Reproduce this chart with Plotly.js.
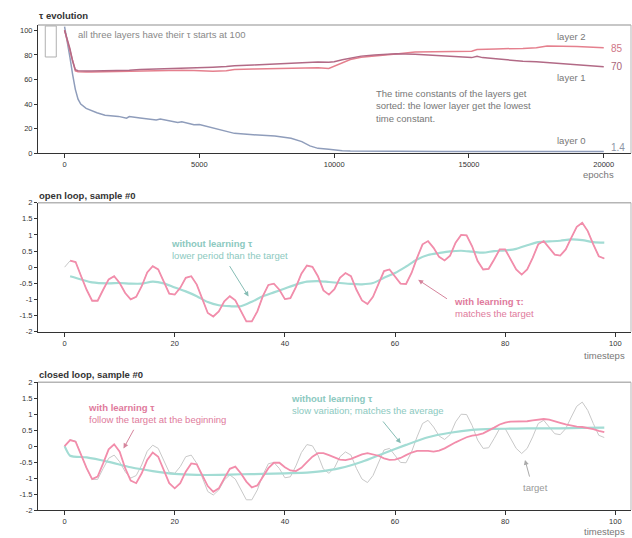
<!DOCTYPE html>
<html>
<head>
<meta charset="utf-8">
<script src="https://cdn.plot.ly/plotly-3.0.1.min.js"></script>
<style>html,body{margin:0;padding:0;background:#fff;}#chart{width:632px;height:538px;}</style>
</head>
<body>
<div id="chart"></div>
<script>
// ---------- DATA ----------
const epochs = [0, 100, 200, 300, 400, 500, 600, 800, 1000, 1200, 1500, 2000, 2300, 2400, 2800, 3400, 3550, 4200, 4350, 4800, 5000, 5500, 6000, 6300, 7000, 7800, 8400, 8800, 9100, 9400, 9800, 10000, 10300, 10600, 11000, 11500, 12300, 13000, 14000, 15100, 15300, 15500, 16000, 17000, 17500, 17900, 18500, 19000, 20000];
const tauLayer0 = [103, 92, 78, 64, 52, 44, 40, 36.5, 34.5, 33, 31, 30, 28.5, 29.8, 28.6, 27, 27.8, 25, 25.7, 23.2, 23.3, 20.5, 17.8, 16.2, 15, 14, 12.2, 9.5, 6, 4, 3.2, 2.5, 2, 1.8, 1.7, 1.6, 1.6, 1.5, 1.5, 1.5, 1.5, 1.5, 1.5, 1.4, 1.4, 1.4, 1.4, 1.4, 1.4];
const tauLayer1 = [100, 93, 85, 75, 68, 67.2, 67, 67, 67, 67, 67, 67.5, 67.5, 67.6, 68.2, 68.5, 68.6, 69, 69.2, 69.6, 69.8, 70, 70.5, 71.1, 71.8, 72.7, 73.2, 73.6, 74, 74.2, 74, 74.5, 76, 77.5, 79, 80, 81, 80.5, 79.2, 77.8, 78.8, 77.8, 76.8, 74.8, 74.5, 74, 72.8, 72, 70.3];
const tauLayer2 = [100, 92, 84, 74, 67, 66.3, 66, 66, 66, 66.1, 66.3, 66.8, 67, 67, 67.2, 67.5, 67.5, 67.5, 67.5, 67.4, 67.3, 66.8, 67.2, 68.2, 68.5, 68.8, 69, 69.3, 69.5, 69.5, 69, 70.8, 74, 76.2, 78, 79.3, 80.8, 82.3, 82.6, 83, 84.4, 84.6, 84.9, 85.3, 85.8, 87.2, 87.2, 86.8, 85.9];

// target sequence, timesteps 0..98
const target = [0, 0.2, 0.16, -0.28, -0.7, -1.04, -1.04, -0.7, -0.38, -0.28, -0.49, -0.8, -1.0, -0.92, -0.59, -0.16, 0.03, -0.07, -0.44, -0.82, -0.85, -0.64, -0.33, -0.28, -0.54, -1.0, -1.42, -1.53, -1.37, -1.06, -0.9, -1.03, -1.37, -1.68, -1.68, -1.37, -0.9, -0.55, -0.51, -0.7, -0.99, -0.96, -0.62, -0.2, 0.05, 0.01, -0.28, -0.72, -0.85, -0.68, -0.33, -0.18, -0.28, -0.7, -1.03, -1.14, -0.92, -0.49, -0.12, -0.07, -0.28, -0.51, -0.52, -0.18, 0.29, 0.71, 0.81, 0.6, 0.32, 0.21, 0.36, 0.76, 1.0, 0.99, 0.65, 0.19, -0.07, -0.05, 0.24, 0.55, 0.55, 0.24, -0.07, -0.23, -0.07, 0.29, 0.71, 0.81, 0.6, 0.39, 0.36, 0.55, 0.91, 1.25, 1.38, 1.12, 0.71, 0.34, 0.27];

// open loop with learning tau, timesteps 1..98
const openWithTau = [0.2, 0.16, -0.28, -0.7, -1.04, -1.04, -0.7, -0.38, -0.28, -0.49, -0.8, -1.0, -0.92, -0.59, -0.16, 0.03, -0.07, -0.44, -0.82, -0.85, -0.64, -0.33, -0.28, -0.54, -1.0, -1.42, -1.53, -1.37, -1.06, -0.9, -1.03, -1.37, -1.68, -1.68, -1.37, -0.9, -0.55, -0.51, -0.7, -0.99, -0.96, -0.62, -0.2, 0.05, 0.01, -0.28, -0.72, -0.85, -0.68, -0.33, -0.18, -0.28, -0.7, -1.03, -1.14, -0.92, -0.49, -0.12, -0.07, -0.28, -0.51, -0.52, -0.18, 0.29, 0.71, 0.81, 0.6, 0.32, 0.21, 0.36, 0.76, 1.0, 0.99, 0.65, 0.19, -0.07, -0.05, 0.24, 0.55, 0.55, 0.24, -0.07, -0.23, -0.07, 0.29, 0.71, 0.81, 0.6, 0.39, 0.36, 0.55, 0.91, 1.25, 1.38, 1.12, 0.71, 0.34, 0.27];

// open loop without learning tau
const openNoTauT = [1, 3, 5, 8, 10, 12, 14, 16, 18, 20, 22, 24, 26, 28, 30, 32, 34, 36, 38, 40, 42, 44, 46, 48, 50, 52, 54, 56, 58, 60, 62, 64, 66, 68, 70, 72, 74, 76, 78, 80, 82, 84, 86, 88, 90, 92, 94, 96, 98];
const openNoTau = [-0.28, -0.38, -0.47, -0.5, -0.49, -0.51, -0.51, -0.45, -0.5, -0.63, -0.75, -0.9, -1.08, -1.18, -1.21, -1.21, -1.07, -0.9, -0.78, -0.66, -0.54, -0.45, -0.43, -0.46, -0.49, -0.52, -0.53, -0.49, -0.33, -0.18, 0.02, 0.24, 0.38, 0.44, 0.49, 0.51, 0.48, 0.45, 0.5, 0.52, 0.57, 0.68, 0.78, 0.8, 0.82, 0.86, 0.84, 0.78, 0.76];

// closed loop with learning tau, timesteps 0..98
const closedWithTau = [0, 0.19, 0.14, -0.28, -0.69, -1.03, -0.95, -0.54, -0.1, 0.06, -0.17, -0.69, -1.08, -1.16, -0.85, -0.43, -0.2, -0.33, -0.75, -1.16, -1.32, -1.16, -0.8, -0.54, -0.57, -0.9, -1.25, -1.43, -1.32, -1.01, -0.71, -0.64, -0.85, -1.11, -1.29, -1.23, -0.98, -0.69, -0.52, -0.52, -0.66, -0.76, -0.78, -0.68, -0.5, -0.33, -0.22, -0.22, -0.28, -0.36, -0.42, -0.44, -0.4, -0.33, -0.26, -0.22, -0.25, -0.3, -0.38, -0.43, -0.42, -0.37, -0.28, -0.2, -0.15, -0.14, -0.15, -0.17, -0.14, -0.07, 0.03, 0.12, 0.2, 0.28, 0.33, 0.35, 0.4, 0.48, 0.58, 0.68, 0.74, 0.77, 0.77, 0.76, 0.78, 0.81, 0.84, 0.85, 0.83, 0.79, 0.73, 0.68, 0.64, 0.61, 0.6, 0.57, 0.53, 0.48, 0.44];

// closed loop without learning tau
const closedNoTauT = [0, 1, 4, 8, 12, 16, 20, 24, 28, 32, 36, 40, 44, 46, 50, 54, 58, 62, 66, 70, 74, 78, 82, 86, 90, 94, 98];
const closedNoTau = [0, -0.3, -0.35, -0.49, -0.66, -0.78, -0.87, -0.9, -0.9, -0.88, -0.87, -0.85, -0.83, -0.8, -0.69, -0.49, -0.22, 0.04, 0.28, 0.42, 0.51, 0.54, 0.55, 0.56, 0.56, 0.57, 0.58];

const tauTicks = [0, 20, 40, 60, 80, 100];
const epochTicks = [0, 5000, 10000, 15000, 20000];
const signalTicks = [-2, -1.5, -1, -0.5, 0, 0.5, 1, 1.5, 2];
const signalTickText = ['-2', '-1.5', '-1', '-0.5', '0', '0.5', '1', '1.5', '2'];
const stepTicks = [0, 20, 40, 60, 80, 100];

// ---------- STYLE ----------
const PINK = '#f28dab', TEAL = '#a3dcd4', GRAY = '#c8c8c8';
const PINK_TXT = '#e07a9c', TEAL_TXT = '#8cc9c0';
const FONT = 'Liberation Sans, Arial, Helvetica, sans-serif';

const traces = [
  {x: epochs, y: tauLayer0, xaxis: 'x', yaxis: 'y', mode: 'lines', line: {color: '#8f9dbb', width: 1.5}},
  {x: epochs, y: tauLayer2, xaxis: 'x', yaxis: 'y', mode: 'lines', line: {color: '#e5808e', width: 1.5}},
  {x: epochs, y: tauLayer1, xaxis: 'x', yaxis: 'y', mode: 'lines', line: {color: '#b26a86', width: 1.5}},

  {y: target, xaxis: 'x2', yaxis: 'y2', mode: 'lines', line: {color: GRAY, width: 1}},
  {x: openNoTauT, y: openNoTau, xaxis: 'x2', yaxis: 'y2', mode: 'lines', line: {color: TEAL, width: 2.2, shape: 'spline', smoothing: 0.8}},
  {y: openWithTau, x0: 1, dx: 1, xaxis: 'x2', yaxis: 'y2', mode: 'lines', line: {color: PINK, width: 1.8}},

  {y: target, xaxis: 'x3', yaxis: 'y3', mode: 'lines', line: {color: GRAY, width: 1}},
  {x: closedNoTauT, y: closedNoTau, xaxis: 'x3', yaxis: 'y3', mode: 'lines', line: {color: TEAL, width: 2.2, shape: 'spline', smoothing: 0.6}},
  {y: closedWithTau, xaxis: 'x3', yaxis: 'y3', mode: 'lines', line: {color: PINK, width: 1.8}}
];

function axisBase(extra) {
  return Object.assign({
    showline: true, linecolor: '#333', linewidth: 1,
    ticks: 'outside', ticklen: 3, tickwidth: 1, tickcolor: '#333',
    showgrid: false, zeroline: false,
    tickfont: {family: FONT, size: 7.5, color: '#333'},
    fixedrange: true
  }, extra);
}

const annotations = [];
function txt(o) {
  annotations.push(Object.assign({showarrow: false, xanchor: 'left', yanchor: 'middle', align: 'left',
    font: {family: FONT, size: 9.5, color: '#888'}}, o));
}
function arrow(xr, yr, ax, ay, x, y, color) {
  annotations.push({xref: xr, yref: yr, axref: xr, ayref: yr, x: x, y: y, ax: ax, ay: ay, text: '',
    showarrow: true, arrowhead: 2, arrowsize: 1, arrowwidth: 1, arrowcolor: color, standoff: 0, startstandoff: 0});
}

// titles
txt({xref: 'paper', yref: 'paper', x: -0.002, y: 1 - 16 / 538, text: '<b>τ evolution</b>', font: {family: FONT, size: 9.5, color: '#333'}});
txt({xref: 'paper', yref: 'paper', x: -0.002, y: 1 - 195 / 538, text: '<b>open loop, sample #0</b>', font: {family: FONT, size: 9.5, color: '#333'}});
txt({xref: 'paper', yref: 'paper', x: -0.002, y: 1 - 374 / 538, text: '<b>closed loop, sample #0</b>', font: {family: FONT, size: 9.5, color: '#333'}});

// axis labels
txt({xref: 'x', yref: 'paper', x: 19795, xanchor: 'center', y: 1 - 174 / 538, text: 'epochs', font: {family: FONT, size: 9.5, color: '#777'}});
txt({xref: 'x2', yref: 'paper', x: 98.1, xanchor: 'center', y: 1 - 355 / 538, text: 'timesteps', font: {family: FONT, size: 9.5, color: '#777'}});
txt({xref: 'x3', yref: 'paper', x: 98.1, xanchor: 'center', y: 1 - 531 / 538, text: 'timesteps', font: {family: FONT, size: 9.5, color: '#777'}});

// top panel texts
txt({xref: 'x', yref: 'y', x: 433, y: 96.2, text: 'all three layers have their τ starts at 100', font: {family: FONT, size: 9.5, color: '#888'}});
txt({xref: 'x', yref: 'y', x: 11475, y: 38.5, text: 'The time constants of the layers get<br>sorted: the lower layer get the lowest<br>time constant.', font: {family: FONT, size: 9.5, color: '#777'}});
txt({xref: 'x', yref: 'y', x: 18180, y: 94.6, text: 'layer 2', font: {family: FONT, size: 9.5, color: '#777'}});
txt({xref: 'x', yref: 'y', x: 18180, y: 62, text: 'layer 1', font: {family: FONT, size: 9.5, color: '#777'}});
txt({xref: 'x', yref: 'y', x: 18180, y: 10, text: 'layer 0', font: {family: FONT, size: 9.5, color: '#777'}});
txt({xref: 'x', yref: 'y', x: 20180, y: 85.6, text: '85', font: {family: FONT, size: 10, color: '#cf7686'}});
txt({xref: 'x', yref: 'y', x: 20180, y: 70.2, text: '70', font: {family: FONT, size: 10, color: '#a86478'}});
txt({xref: 'x', yref: 'y', x: 20180, y: 5.1, text: '1.4', font: {family: FONT, size: 10, color: '#8d95a6'}});

// open loop texts
txt({xref: 'x2', yref: 'y2', x: 19.0, y: 0.545, text: '<b>without learning τ</b><br>lower period than the target', font: {family: FONT, size: 9.5, color: TEAL_TXT}});
arrow('x2', 'y2', 29.8, 0.08, 33.4, -0.91, '#86bdb5');
txt({xref: 'x2', yref: 'y2', x: 70.4, y: -1.26, text: '<b>with learning τ:</b><br>matches the target', font: {family: FONT, size: 9.5, color: PINK_TXT}});
arrow('x2', 'y2', 69.7, -1.01, 64.2, -0.39, '#d5849c');

// closed loop texts
txt({xref: 'x3', yref: 'y3', x: 3.94, y: 1.01, text: '<b>with learning τ</b><br>follow the target at the beginning', font: {family: FONT, size: 9.5, color: PINK_TXT}});
arrow('x3', 'y3', 12.7, 0.56, 10.7, -0.07, '#d5849c');
txt({xref: 'x3', yref: 'y3', x: 40.8, y: 1.32, text: '<b>without learning τ</b><br>slow variation; matches the average', font: {family: FONT, size: 9.5, color: TEAL_TXT}});
arrow('x3', 'y3', 57.6, 0.82, 61.05, 0.09, '#86bdb5');
txt({xref: 'x3', yref: 'y3', x: 82.8, y: -1.28, text: 'target', font: {family: FONT, size: 9.5, color: '#999'}});
arrow('x3', 'y3', 84.5, -1.0, 83.6, -0.43, '#aaa');

const shapes = [];
[['x domain', 'y domain'], ['x2 domain', 'y2 domain'], ['x3 domain', 'y3 domain']].forEach(function (r) {
  shapes.push({type: 'line', xref: r[0], yref: r[1], x0: 0, x1: 1, y0: 1, y1: 1, line: {color: '#b5b5b5', width: 1.5}});
  shapes.push({type: 'line', xref: r[0], yref: r[1], x0: 1, x1: 1, y0: 0, y1: 1, line: {color: '#b5b5b5', width: 1}});
});
shapes.push({type: 'rect', xref: 'x', yref: 'y', x0: -715, x1: -307, y0: 78.3, y1: 103.5, line: {color: '#b0b0b0', width: 1}});

const layout = {
  width: 632, height: 538,
  margin: {l: 38, r: 1, t: 0, b: 0},
  paper_bgcolor: '#fff', plot_bgcolor: '#fff',
  font: {family: FONT, size: 9.5, color: '#444'},
  showlegend: false,
  xaxis: axisBase({anchor: 'y', domain: [0, 1], range: [-985, 21010], tickvals: epochTicks, ticktext: epochTicks.map(String), ticklen: 4}),
  yaxis: axisBase({anchor: 'x', domain: [0.7151, 0.9535], range: [0, 104.3], tickvals: tauTicks, ticktext: tauTicks.map(String)}),
  xaxis2: axisBase({anchor: 'y2', domain: [0, 1], range: [-4.83, 102.85], tickvals: stepTicks, ticktext: stepTicks.map(String), ticklen: 4}),
  yaxis2: axisBase({anchor: 'x2', domain: [0.3835, 0.6232], range: [-2, 2], tickvals: signalTicks, ticktext: signalTickText}),
  xaxis3: axisBase({anchor: 'y3', domain: [0, 1], range: [-4.83, 102.85], tickvals: stepTicks, ticktext: stepTicks.map(String), ticklen: 4}),
  yaxis3: axisBase({anchor: 'x3', domain: [0.052, 0.2894], range: [-2, 2], tickvals: signalTicks, ticktext: signalTickText}),
  annotations: annotations,
  shapes: shapes
};

Plotly.newPlot('chart', traces, layout, {staticPlot: true, displayModeBar: false});
</script>
</body>
</html>
